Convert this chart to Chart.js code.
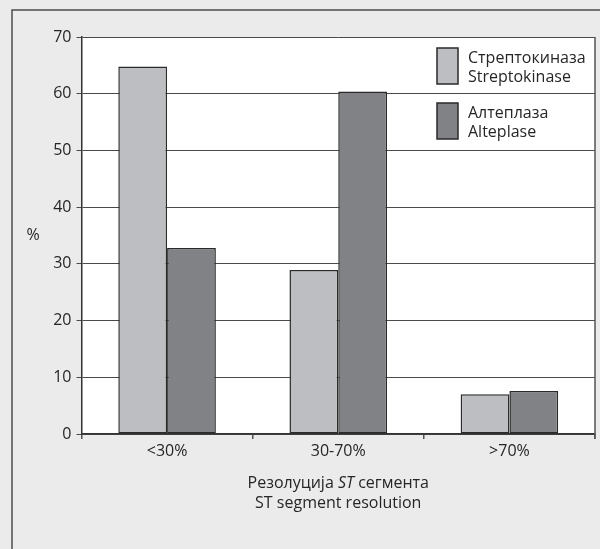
<!DOCTYPE html>
<html>
<head>
<meta charset="utf-8">
<script src="https://cdn.jsdelivr.net/npm/chart.js@4.4.1/dist/chart.umd.min.js"></script>
<style>
  body { margin: 0; background: #ebebeb; }
  canvas { display: block; }
</style>
</head>
<body>
<canvas id="stChart" width="600" height="549"></canvas>
<script>
const categories = ["<30%", "30-70%", ">70%"];
const streptokinase = [64.8, 28.9, 7.0];
const alteplase = [32.8, 60.4, 7.6];
const seriesNames = [
  ["Стрептокиназа", "Streptokinase"],
  ["Алтеплаза", "Alteplase"],
];
const seriesColors = ["#bdbec2", "#818285"];

const FONT = "'Open Sans', 'Noto Sans', sans-serif";
const TEXT = "#262626";
const FS = 16;

// page frame, white plot area, right border, legend and axis titles
const decorPlugin = {
  id: "decor",
  beforeDraw(chart) {
    const ctx = chart.ctx;
    const area = chart.chartArea;
    ctx.save();
    ctx.fillStyle = "#ebebeb";
    ctx.fillRect(0, 0, chart.width, chart.height);
    ctx.strokeStyle = "#4d4d4d";
    ctx.lineWidth = 1.5;
    ctx.beginPath();
    ctx.moveTo(12, chart.height);
    ctx.lineTo(12, 10);
    ctx.lineTo(chart.width, 10);
    ctx.stroke();
    ctx.fillStyle = "#ffffff";
    ctx.fillRect(area.left, area.top, area.right - area.left, area.bottom - area.top);
    ctx.restore();
  },
  afterDraw(chart) {
    const ctx = chart.ctx;
    const area = chart.chartArea;
    ctx.save();
    // right border + tick below
    ctx.strokeStyle = "#555";
    ctx.lineWidth = 1.5;
    ctx.beginPath();
    ctx.moveTo(area.right, area.top);
    ctx.lineTo(area.right, area.bottom + 5);
    ctx.stroke();

    // legend
    ctx.font = FS + "px " + FONT;
    ctx.textBaseline = "alphabetic";
    ctx.textAlign = "left";
    seriesNames.forEach((lines, i) => {
      const top = area.top + 11 + i * 55;
      const sx = area.right - 158;
      ctx.fillStyle = seriesColors[i];
      ctx.fillRect(sx, top, 21, 36);
      ctx.strokeStyle = "#2a2a2a";
      ctx.lineWidth = 1.5;
      ctx.strokeRect(sx, top, 21, 36);
      ctx.fillStyle = TEXT;
      lines.forEach((t, j) => {
        ctx.fillText(t, sx + 31, top + 15 + j * 19);
      });
    });

    // y title
    ctx.textAlign = "center";
    ctx.textBaseline = "middle";
    ctx.fillText("%", 33, (area.top + area.bottom) / 2);

    // x title, with italic ST on the first line
    const cx = (area.left + area.right) / 2;
    const parts = [
      ["Резолуција ", "normal"],
      ["ST", "italic"],
      [" сегмента", "normal"],
    ];
    let total = 0;
    parts.forEach(([t, st]) => {
      ctx.font = st + " " + FS + "px " + FONT;
      total += ctx.measureText(t).width;
    });
    let x = cx - total / 2;
    ctx.textAlign = "left";
    parts.forEach(([t, st]) => {
      ctx.font = st + " " + FS + "px " + FONT;
      ctx.fillText(t, x, 483);
      x += ctx.measureText(t).width;
    });
    ctx.font = FS + "px " + FONT;
    ctx.textAlign = "center";
    ctx.fillText("ST segment resolution", cx, 503);
    ctx.restore();
  },
};

new Chart(document.getElementById("stChart"), {
  type: "bar",
  data: {
    labels: categories,
    datasets: [
      {
        label: seriesNames[0].join(" "),
        data: streptokinase,
        backgroundColor: seriesColors[0],
        borderColor: "#2a2a2a",
        borderWidth: 1.5,
        borderSkipped: false,
      },
      {
        label: seriesNames[1].join(" "),
        data: alteplase,
        backgroundColor: seriesColors[1],
        borderColor: "#2a2a2a",
        borderWidth: 1.5,
        borderSkipped: false,
      },
    ],
  },
  options: {
    responsive: false,
    animation: false,
    devicePixelRatio: 1,
    datasets: {
      bar: { categoryPercentage: 0.57, barPercentage: 1 },
    },
    layout: { padding: { left: 0, top: 37, right: 5, bottom: 0 } },
    plugins: {
      legend: { display: false },
      tooltip: { enabled: false },
    },
    scales: {
      x: {
        afterFit(scale) {
          scale.height = 115;
        },
        grid: {
          offset: true,
          drawOnChartArea: false,
          drawTicks: true,
          tickLength: 5,
          color: "#555",
          lineWidth: 1.5,
        },
        border: { display: true, color: "#333", width: 1.5 },
        ticks: {
          color: TEXT,
          font: { family: FONT, size: FS },
          padding: 3,
        },
      },
      y: {
        min: 0,
        max: 70,
        afterFit(scale) {
          scale.width = 81.5;
        },
        grid: {
          color: "#4a4a4a",
          lineWidth: 1,
          drawTicks: true,
          tickLength: 5,
        },
        border: { display: true, color: "#333", width: 1.5 },
        ticks: {
          stepSize: 10,
          color: TEXT,
          font: { family: FONT, size: FS },
          padding: 5,
        },
      },
    },
  },
  plugins: [decorPlugin],
});
</script>
</body>
</html>
